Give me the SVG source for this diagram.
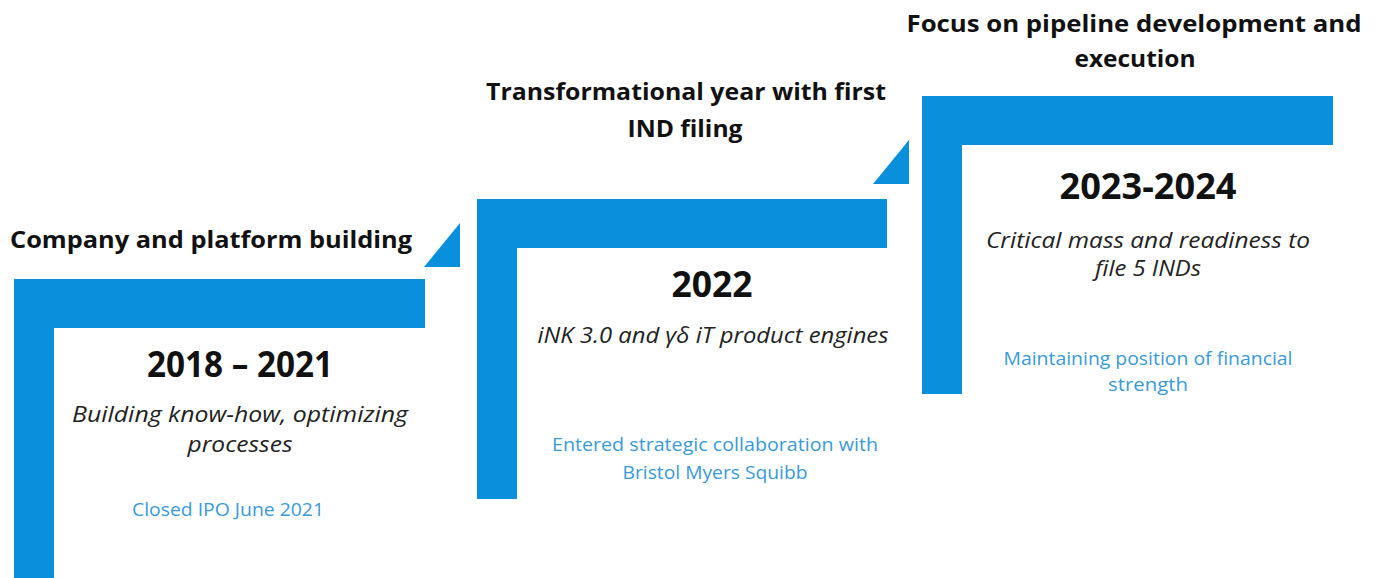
<svg xmlns="http://www.w3.org/2000/svg" width="1382" height="578" viewBox="0 0 1382 578">
  <style>
    .bar { fill: #0a8fdc; }
    .head { font-family: "Open Sans", "DejaVu Sans", sans-serif; font-weight: 700; font-size: 24px; fill: #111; text-anchor: middle; }
    .year { font-family: "Open Sans", "DejaVu Sans", sans-serif; font-weight: 700; font-size: 35px; fill: #111; text-anchor: middle; }
    .desc { font-family: "Open Sans", "DejaVu Sans", sans-serif; font-style: italic; font-size: 22px; fill: #222; text-anchor: middle; }
    .note { font-family: "Open Sans", "DejaVu Sans", sans-serif; font-size: 19px; fill: #3a9ad8; text-anchor: middle; }
  </style>
  <rect width="1382" height="578" fill="#ffffff"/>

  <!-- step 1 -->
  <g id="step-2018-2021">
    <path class="bar" d="M14 279 H425 V328 H54 V578 H14 Z"/>
    <polygon class="bar" points="424,267 460,223 460,267"/>
    <text class="head" x="211" y="248" textLength="402" lengthAdjust="spacingAndGlyphs">Company and platform building</text>
    <text class="year" x="240" y="377" textLength="186" lengthAdjust="spacingAndGlyphs">2018 – 2021</text>
    <text class="desc" x="240" y="422" textLength="336" lengthAdjust="spacingAndGlyphs">Building know-how, optimizing</text>
    <text class="desc" x="240" y="452" textLength="105" lengthAdjust="spacingAndGlyphs">processes</text>
    <text class="note" x="228" y="516" textLength="192" lengthAdjust="spacingAndGlyphs">Closed IPO June 2021</text>
  </g>

  <!-- step 2 -->
  <g id="step-2022">
    <path class="bar" d="M477 199 H887 V248 H517 V499 H477 Z"/>
    <polygon class="bar" points="873,184 909,140 909,184"/>
    <text class="head" x="686" y="100" textLength="400" lengthAdjust="spacingAndGlyphs">Transformational year with first</text>
    <text class="head" x="685" y="137" textLength="115" lengthAdjust="spacingAndGlyphs">IND filing</text>
    <text class="year" x="712" y="297" textLength="81" lengthAdjust="spacingAndGlyphs">2022</text>
    <text class="desc" x="713" y="343" textLength="351" lengthAdjust="spacingAndGlyphs">iNK 3.0 and γδ iT product engines</text>
    <text class="note" x="715" y="451" textLength="326" lengthAdjust="spacingAndGlyphs">Entered strategic collaboration with</text>
    <text class="note" x="715" y="479" textLength="185" lengthAdjust="spacingAndGlyphs">Bristol Myers Squibb</text>
  </g>

  <!-- step 3 -->
  <g id="step-2023-2024">
    <path class="bar" d="M922 96 H1333 V145 H962 V394 H922 Z"/>
    <text class="head" x="1134" y="32" textLength="455" lengthAdjust="spacingAndGlyphs">Focus on pipeline development and</text>
    <text class="head" x="1135" y="67" textLength="121" lengthAdjust="spacingAndGlyphs">execution</text>
    <text class="year" x="1148" y="199" textLength="177" lengthAdjust="spacingAndGlyphs">2023-2024</text>
    <text class="desc" x="1148" y="248" textLength="324" lengthAdjust="spacingAndGlyphs">Critical mass and readiness to</text>
    <text class="desc" x="1148" y="276" textLength="106" lengthAdjust="spacingAndGlyphs">file 5 INDs</text>
    <text class="note" x="1148" y="365" textLength="289" lengthAdjust="spacingAndGlyphs">Maintaining position of financial</text>
    <text class="note" x="1148" y="391" textLength="80" lengthAdjust="spacingAndGlyphs">strength</text>
  </g>
</svg>
